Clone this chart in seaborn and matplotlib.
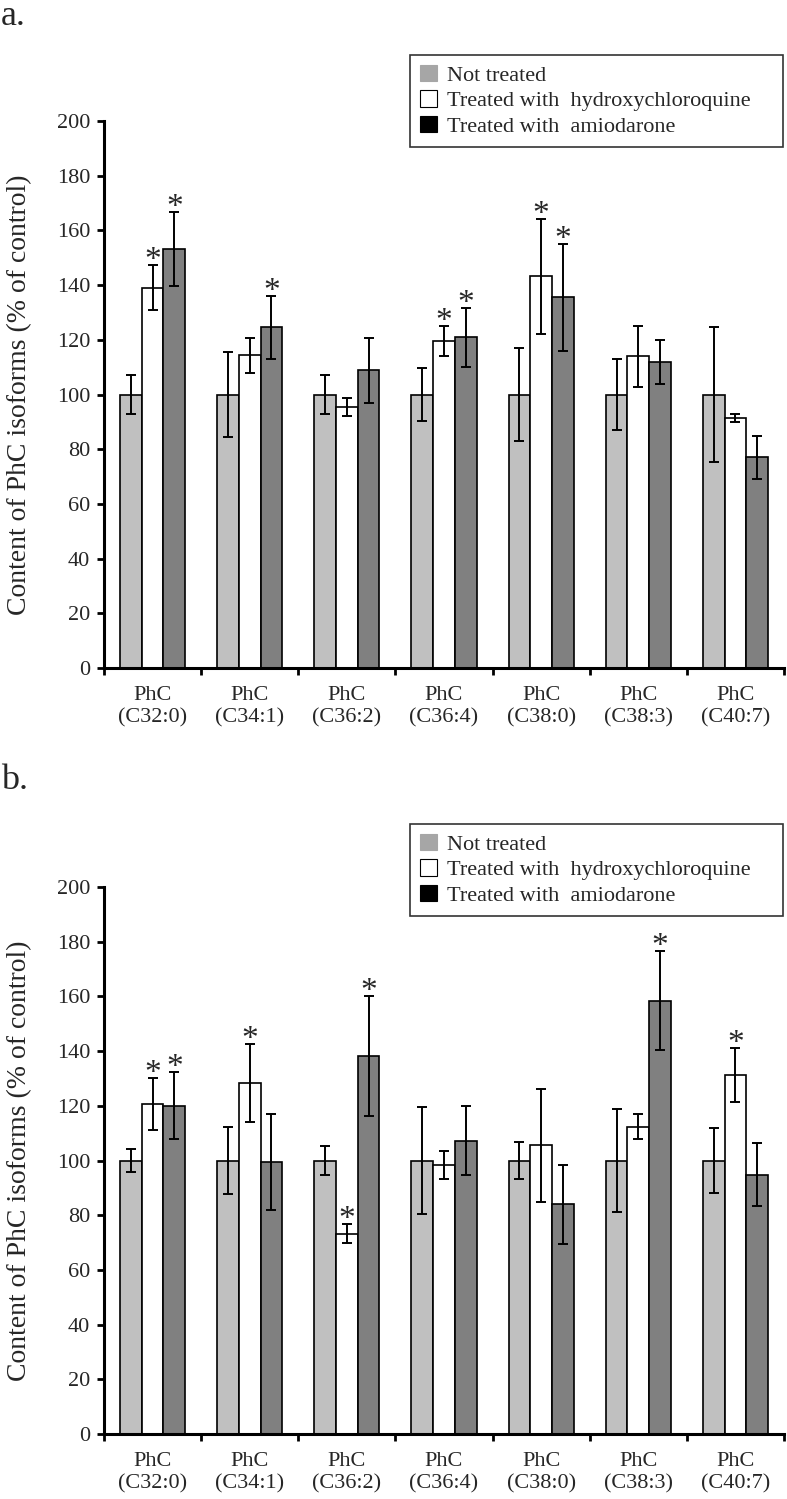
import numpy as np
import pandas as pd
import matplotlib
matplotlib.use("Agg")
import matplotlib.pyplot as plt
import seaborn as sns
from matplotlib.patches import Patch

# categories and series
categories = ["PhC\n(C32:0)", "PhC\n(C34:1)", "PhC\n(C36:2)", "PhC\n(C36:4)",
              "PhC\n(C38:0)", "PhC\n(C38:3)", "PhC\n(C40:7)"]
series = ["Not treated", "Treated with  hydroxychloroquine", "Treated with  amiodarone"]

# panel a
a_not = [100, 100, 100, 100, 100, 100, 100]
a_not_err = [7.3, 15.5, 7.3, 9.7, 17, 12.8, 24.6]
a_hcq = [139.1, 114.3, 95.5, 119.6, 143.3, 113.9, 91.3]
a_hcq_err = [8.2, 6.5, 3.3, 5.6, 21, 11.3, 1.4]
a_amio = [153.1, 124.6, 108.8, 121, 135.5, 111.9, 77]
a_amio_err = [13.6, 11.5, 12, 10.8, 19.5, 8, 8]
a_hcq_star = [1, 0, 0, 1, 1, 0, 0]
a_amio_star = [1, 1, 0, 1, 1, 0, 0]

# panel b
b_not = [100, 100, 100, 100, 100, 100, 100]
b_not_err = [4.3, 12.2, 5.4, 19.4, 6.7, 19, 12]
b_hcq = [120.6, 128.3, 73.3, 98.4, 105.5, 112.4, 131.3]
b_hcq_err = [9.5, 14.2, 3.5, 5.2, 20.5, 4.5, 9.8]
b_amio = [120, 99.4, 138.2, 107.3, 84, 158.5, 94.8]
b_amio_err = [12.3, 17.6, 22, 12.5, 14.4, 18.2, 11.5]
b_hcq_star = [1, 1, 1, 0, 0, 0, 1]
b_amio_star = [1, 0, 1, 0, 0, 1, 0]

bar_colors = ["#c0c0c0", "#ffffff", "#808080"]
legend_colors = ["#a6a6a6", "#ffffff", "#000000"]

sns.set_style("white")
plt.rcParams["font.family"] = ["Liberation Serif", "DejaVu Serif"]

fig = plt.figure(figsize=(7.87, 14.99), dpi=100)
W, H = 787, 1499


def draw_panel(ax, vals, errs, stars, legend_top):
    df = pd.DataFrame({
        "cat": categories * 3,
        "grp": [s for s in series for _ in categories],
        "val": vals[0] + vals[1] + vals[2],
    })
    sns.barplot(data=df, x="cat", y="val", hue="grp", order=categories,
                hue_order=series, palette=bar_colors, width=0.67,
                edgecolor="black", linewidth=1.2, errorbar=None,
                legend=False, ax=ax)
    bar_groups = list(ax.containers)
    for k, cont in enumerate(bar_groups):
        xs = [b.get_x() + b.get_width() / 2 for b in cont]
        ax.errorbar(xs, vals[k], yerr=errs[k], fmt="none", ecolor="black",
                    elinewidth=1.4, capsize=3.5, capthick=1.4, zorder=5)
        if stars[k] is not None:
            for x, v, e, s in zip(xs, vals[k], errs[k], stars[k]):
                if s:
                    ax.annotate("*", (x, v + e), xytext=(0, -3),
                                textcoords="offset points", ha="center",
                                va="baseline", fontsize=24)
    ax.set_ylim(0, 200)
    ax.set_xlim(-0.5, 6.5)
    ax.set_yticks(np.arange(0, 201, 20))
    ax.set_xticks(np.arange(-0.5, 7, 1))
    ax.set_xticklabels([])
    ax.set_xticks(np.arange(7), minor=True)
    ax.set_xticklabels(categories, minor=True, fontsize=16, linespacing=1.2)
    ax.tick_params(axis="x", which="minor", length=0, pad=13)
    ax.tick_params(axis="x", which="major", direction="out", length=5,
                   width=2, color="black", bottom=True)
    ax.tick_params(axis="y", direction="out", length=5, width=2,
                   color="black", left=True, labelsize=16, pad=5)
    for side in ["top", "right"]:
        ax.spines[side].set_visible(False)
    for side in ["left", "bottom"]:
        ax.spines[side].set_color("black")
        ax.spines[side].set_linewidth(2.2)
    ax.set_xlabel("")
    ax.set_ylabel("Content of PhC isoforms (% of control)", fontsize=20)
    ax.yaxis.set_label_coords(-0.105, 0.5)
    handles = [Patch(facecolor=c, edgecolor="black" if c == "#ffffff" else c,
                     linewidth=0.8, label=s)
               for c, s in zip(legend_colors, series)]
    leg = ax.legend(handles=handles, loc="upper left",
                    bbox_to_anchor=(410 / W, 1 - legend_top / H - 0.01, 373 / W, 0.01),
                    bbox_transform=fig.transFigure, mode="expand",
                    fontsize=16, frameon=True, fancybox=False,
                    borderaxespad=0, handlelength=0.75, handleheight=0.75,
                    handletextpad=0.45, labelspacing=0.2, borderpad=0.45)
    leg.get_frame().set_edgecolor("black")
    leg.get_frame().set_linewidth(1.2)


ax1 = fig.add_axes([104 / W, 1 - 668 / H, 680 / W, 547 / H])
draw_panel(ax1, [a_not, a_hcq, a_amio], [a_not_err, a_hcq_err, a_amio_err],
           [None, a_hcq_star, a_amio_star], 55)

ax2 = fig.add_axes([104 / W, 1 - 1434 / H, 680 / W, 547 / H])
draw_panel(ax2, [b_not, b_hcq, b_amio], [b_not_err, b_hcq_err, b_amio_err],
           [None, b_hcq_star, b_amio_star], 824)

fig.text(1 / W, 1 - 0 / H, "a.", fontsize=26, va="top", ha="left")
fig.text(1 / W, 1 - 764 / H, "b.", fontsize=26, va="top", ha="left")

fig.savefig("out.png", dpi=100)
